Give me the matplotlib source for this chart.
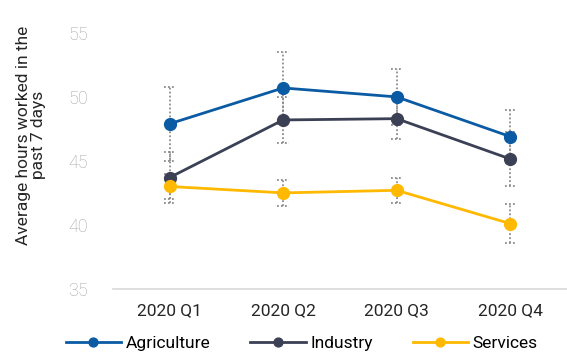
import matplotlib.pyplot as plt
import numpy as np

plt.rcParams['font.family'] = ['Roboto', 'DejaVu Sans']

quarters = ["2020 Q1", "2020 Q2", "2020 Q3", "2020 Q4"]
agriculture = [47.9, 50.7, 50.0, 46.9]
industry = [43.7, 48.2, 48.3, 45.15]
services = [43.0, 42.5, 42.7, 40.1]
agriculture_err = [2.9, 2.8, 2.2, 2.1]
industry_err = [2.0, 1.8, 1.6, 2.1]
services_err = [1.0, 1.0, 1.0, 1.5]

colors = {"Agriculture": "#0a5ba3", "Industry": "#3b4054", "Services": "#ffb900"}

fig = plt.figure(figsize=(5.67, 3.54), dpi=100)
ax = fig.add_axes([0.199, 0.184, 0.801, 0.723])

x = np.arange(len(quarters))
series = [("Agriculture", agriculture, agriculture_err),
          ("Industry", industry, industry_err),
          ("Services", services, services_err)]

# error bars first, dotted grey
for name, vals, err in series:
    vals = np.array(vals)
    err = np.array(err)
    ax.vlines(x, vals - err, vals + err, colors="#8c8c8c", linestyles=(0, (1, 1.2)),
              linewidth=1.3, zorder=1)
    for ends in (vals - err, vals + err):
        ax.hlines(ends, x - 0.05, x + 0.05, colors="#8c8c8c", linestyles=(0, (1, 1.2)),
                  linewidth=1.3, zorder=1)

for name, vals, err in series:
    ax.plot(x, vals, color=colors[name], linewidth=2, marker="o", markersize=8.5,
            label=name, zorder=3)

ax.set_xlim(-0.5, 3.5)
ax.set_ylim(35, 55)
ax.set_yticks([35, 40, 45, 50, 55])
ax.set_xticks(x)
ax.set_xticklabels(quarters, fontsize=12.5, color="#262626")
ax.tick_params(axis="y", labelsize=13, labelcolor="#a6a6a6", length=0, pad=18)
for t in ax.get_yticklabels():
    t.set_fontweight("light")
ax.tick_params(axis="x", length=0, pad=10)
for s in ["top", "right", "left"]:
    ax.spines[s].set_visible(False)
ax.spines["bottom"].set_color("#d9d9d9")
ax.spines["bottom"].set_linewidth(1.2)

ax.set_ylabel("Average hours worked in the\npast 7 days", fontsize=12.5, color="#262626",
              linespacing=1.0)
ax.yaxis.set_label_coords(-0.148, 0.60)

fig.legend(loc="center", bbox_to_anchor=(0.532, 0.03), ncol=3, frameon=False,
           fontsize=12.5, handlelength=3.2, handletextpad=0.25, columnspacing=2.3,
           markerscale=0.75)

fig.savefig("out.png", dpi=100)
